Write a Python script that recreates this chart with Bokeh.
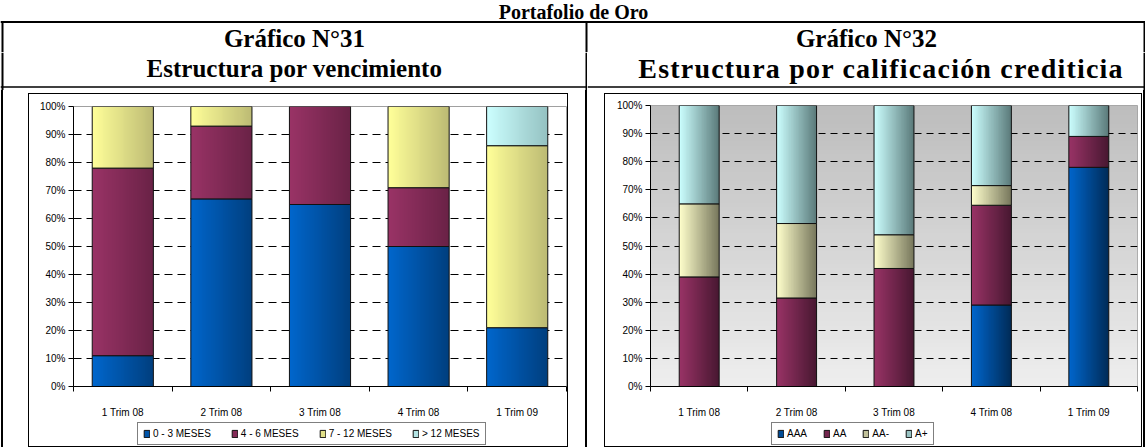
import numpy as np
from bokeh.plotting import figure
from bokeh.models import (Range1d, FixedTicker, PrintfTickFormatter, Legend, LegendItem,
                          Spacer, Column, Row)
from bokeh.core.properties import value
from bokeh.embed import file_html
from bokeh.resources import INLINE

# ---------------- data ----------------
page_title = "Portafolio de Oro"
header_left = ["Gráfico N°31", "Estructura por vencimiento"]
header_right = ["Gráfico N°32", "Estructura por calificación crediticia"]

categories = ["1 Trim 08", "2 Trim 08", "3 Trim 08", "4 Trim 08", "1 Trim 09"]

venc_names = ["0 - 3 MESES", "4 - 6 MESES", "7 - 12 MESES", "> 12 MESES"]
venc_0_3 = [11, 67, 65, 50, 21]
venc_4_6 = [67, 26, 35, 21, 0]
venc_7_12 = [22, 7, 0, 29, 65]
venc_12p = [0, 0, 0, 0, 14]

calif_names = ["AAA", "AA", "AA-", "A+"]
calif_aaa = [0, 0, 0, 29, 78]
calif_aa = [39, 31.5, 42, 35.5, 11]
calif_aam = [26, 26.5, 12, 7, 0]
calif_ap = [35, 42, 46, 28.5, 11]

y_ticks = [0, 10, 20, 30, 40, 50, 60, 70, 80, 90, 100]

# ---------------- styling helpers ----------------
SANS = "Liberation Sans"
SERIF = "Liberation Serif"


def hex_rgb(h):
    h = h.lstrip("#")
    return np.array([int(h[i:i + 2], 16) for i in (0, 2, 4)], dtype=float)


def mix(c1, c2, t):
    c = hex_rgb(c1) * (1 - t) + hex_rgb(c2) * t
    return "#%02x%02x%02x" % tuple(int(round(v)) for v in c)


def gradient_image(c_start, c_end, rows, cols, vertical=False):
    a, b = hex_rgb(c_start), hex_rgb(c_end)
    img = np.empty((rows, cols), dtype=np.uint32)
    v = img.view(dtype=np.uint8).reshape((rows, cols, 4))
    n = rows if vertical else cols
    for i in range(n):
        t = i / (n - 1)
        c = a * (1 - t) + b * t
        sl = (i, slice(None)) if vertical else (slice(None), i)
        v[sl + (0,)] = int(round(c[0]))
        v[sl + (1,)] = int(round(c[1]))
        v[sl + (2,)] = int(round(c[2]))
        v[sl + (3,)] = 255
    return img


def make_chart(width, height, series, grads, bar_w, mb, dash, bg=None):
    p = figure(width=width, height=height, x_range=Range1d(0, 5), y_range=Range1d(0, 100),
               output_backend="svg", toolbar_location=None,
               min_border_left=mb[0], min_border_right=mb[1],
               min_border_top=mb[2], min_border_bottom=mb[3])
    p.border_fill_color = "white"
    p.background_fill_color = "white"
    p.outline_line_color = "#a0a0a0"
    p.outline_line_width = 1

    if bg is not None:
        # vertical gradient of the plot area: row 0 is the bottom
        img = gradient_image(bg[1], bg[0], 64, 2, vertical=True)
        p.image_rgba(image=[img], x=0, y=0, dw=5, dh=100, level="image")

    centers = np.arange(len(categories)) + 0.5
    cum = np.zeros(len(categories))
    for vals, (cl, cr) in zip(series, grads):
        vals = np.array(vals, dtype=float)
        bottom = cum.copy()
        top = cum + vals
        cum = top
        nz = vals > 0
        cx, b, t = centers[nz], bottom[nz], top[nz]
        grad = gradient_image(cl, cr, 1, 64)
        p.image_rgba(image=[grad] * len(cx), x=list(cx - bar_w / 2), y=list(b),
                     dw=bar_w, dh=list(t - b))
        p.vbar(x=cx, width=bar_w, bottom=b, top=t, fill_color=None, line_color="#111111",
               line_width=1)

    # y axis
    yax = p.yaxis[0]
    yax.ticker = FixedTicker(ticks=y_ticks)
    yax.formatter = PrintfTickFormatter(format="%d%%")
    yax.axis_line_color = "black"
    yax.major_tick_line_color = "black"
    yax.major_tick_out = 5
    yax.major_tick_in = 0
    yax.minor_tick_line_color = None
    yax.major_label_standoff = 3
    yax.major_label_text_font = SANS
    yax.major_label_text_font_size = "10px"
    yax.major_label_text_color = "black"

    # x axis
    xax = p.xaxis[0]
    xax.ticker = FixedTicker(ticks=list(centers), minor_ticks=list(range(len(categories) + 1)))
    xax.major_label_overrides = {float(c): lab for c, lab in zip(centers, categories)}
    xax.axis_line_color = "black"
    xax.major_tick_line_color = None
    xax.minor_tick_line_color = "black"
    xax.minor_tick_out = 5
    xax.minor_tick_in = 0
    xax.major_label_standoff = 14
    xax.major_label_text_font = SANS
    xax.major_label_text_font_size = "10px"
    xax.major_label_text_color = "black"

    p.xgrid.visible = False
    p.ygrid.ticker = FixedTicker(ticks=y_ticks[1:-1])
    p.ygrid.grid_line_color = "black"
    p.ygrid.grid_line_width = 1
    p.ygrid.grid_line_dash = dash
    return p


def make_legend(width, height, names, series, grads, x_off, spacing):
    q = figure(width=width, height=height, x_range=Range1d(0, 5), y_range=Range1d(0, 100),
               output_backend="svg", toolbar_location=None, min_border=0,
               x_axis_type=None, y_axis_type=None)
    q.grid.visible = False
    q.outline_line_color = None
    q.border_fill_color = "white"
    q.background_fill_color = "white"
    centers = np.arange(len(categories)) + 0.5
    items = []
    for name, vals, (cl, cr) in zip(names, series, grads):
        # legend-only renderer (not displayed) carrying the series values
        r = q.vbar(x=centers, top=vals, width=0.5, fill_color=mix(cl, cr, 0.45),
                   line_color="#111111", line_width=1, visible=False)
        items.append(LegendItem(label=name, renderers=[r]))
    leg = Legend(items=items, orientation="horizontal", location=(x_off, 1),
                 glyph_width=7, glyph_height=9, label_standoff=3, spacing=spacing,
                 label_width=5, padding=5, margin=0, border_line_color="black",
                 border_line_width=1, background_fill_color="white",
                 background_fill_alpha=1, inactive_fill_alpha=0,
                 label_text_font=SANS, label_text_font_size="10px",
                 label_text_color="black", label_height=11)
    q.add_layout(leg, "center")
    return q


def blank(width, height, **kw):
    f = figure(width=width, height=height, x_range=Range1d(0, width),
               y_range=Range1d(height, 0), output_backend="svg", toolbar_location=None,
               min_border=0, x_axis_type=None, y_axis_type=None, **kw)
    f.grid.visible = False
    f.outline_line_color = None
    f.border_fill_color = "white"
    f.background_fill_color = "white"
    return f


HEAD_FONT = dict(text_align="center", text_baseline="middle", text_font=value(SERIF),
                 text_font_style="bold", text_color="black")

# ---------------- header (table top part) ----------------
W = 1145
TOP_H, BOT_H = 52, 38
CH = 447 - TOP_H - BOT_H
Htop = blank(W, TOP_H)
Htop.text(x=[573], y=[11], text=[page_title], text_align="center",
          text_baseline="middle", text_font=value(SERIF), text_font_style="bold",
          text_font_size="20px", text_color="black")
Htop.segment(x0=[0], y0=[21.5], x1=[W], y1=[21.5], line_color="black", line_width=2)
Htop.segment(x0=[2, 586, 1144], y0=[20.5] * 3, x1=[2, 586, 1144], y1=[TOP_H] * 3,
             line_color="black", line_width=2)
Htop.text(x=[294, 866], y=[38, 38], text=[header_left[0], header_right[0]],
          text_font_size="25px", **HEAD_FONT)

WL = 587
WR = W - WL
Hbl = blank(WL, BOT_H)
Hbl.segment(x0=[2, 586], y0=[0, 0], x1=[2, 586], y1=[BOT_H, BOT_H], line_color="black",
            line_width=2)
Hbl.segment(x0=[0], y0=[34.5], x1=[WL], y1=[34.5], line_color="black", line_width=1.5)
Hbl.text(x=[294], y=[16], text=[header_left[1]], text_font_size="25px", **HEAD_FONT)

Hbr = blank(WR, BOT_H, styles={"letter-spacing": "1.2px"})
Hbr.segment(x0=[557], y0=[0], x1=[557], y1=[BOT_H], line_color="black", line_width=2)
Hbr.segment(x0=[0], y0=[34.5], x1=[WR], y1=[34.5], line_color="black", line_width=1.5)
Hbr.text(x=[271], y=[16], text=[header_right[1]], text_font_size="28px", **HEAD_FONT)

# ---------------- charts ----------------
venc_grads = [("#0066cc", "#003f7f"), ("#993366", "#6a2246"),
              ("#ffff99", "#bdbb74"), ("#ccffff", "#95c2c2")]
calif_grads = [("#0066cc", "#002a55"), ("#993366", "#461730"),
               ("#ffffcc", "#74745a"), ("#ccffff", "#587777")]

GAP = 3
INNER = CH - GAP - 2        # 352
LEGH = 26
FH = INNER - LEGH           # 326

venc_series = [venc_0_3, venc_4_6, venc_7_12, venc_12p]
calif_series = [calif_aaa, calif_aa, calif_aam, calif_ap]

pL = make_chart(538, FH, venc_series, venc_grads, 0.62, (44, 1, 12, 33), "8 5")
pR = make_chart(536, FH, calif_series, calif_grads, 0.41, (45, 4, 11, 31), "7 5",
                bg=("#bdbdbd", "#eeeeee"))
# legend offsets are measured from the plot frame (aligned with the chart above)
lL = make_legend(538, LEGH, venc_names, venc_series, venc_grads, 64, 20)
lR = make_legend(536, LEGH, calif_names, calif_series, calif_grads, 121, 16)


def vline():
    return Spacer(width=2, height=CH, styles={"background-color": "black"})


def sp(w):
    return Spacer(width=w, height=CH)


boxL = Column(children=[pL, lL], styles={"border": "1px solid black"})
boxR = Column(children=[pR, lR], styles={"border": "1px solid black"})
cellL = Column(children=[Spacer(width=540, height=GAP), boxL])
cellR = Column(children=[Spacer(width=538, height=GAP), boxR])

chart_row = Row(children=[sp(1), vline(), sp(25), cellL, sp(17), vline(), sp(17), cellR,
                          sp(1), vline()])
root = Column(children=[Htop, Row(children=[Hbl, Hbr]), chart_row])

open("out.html", "w").write(file_html(root, INLINE))
